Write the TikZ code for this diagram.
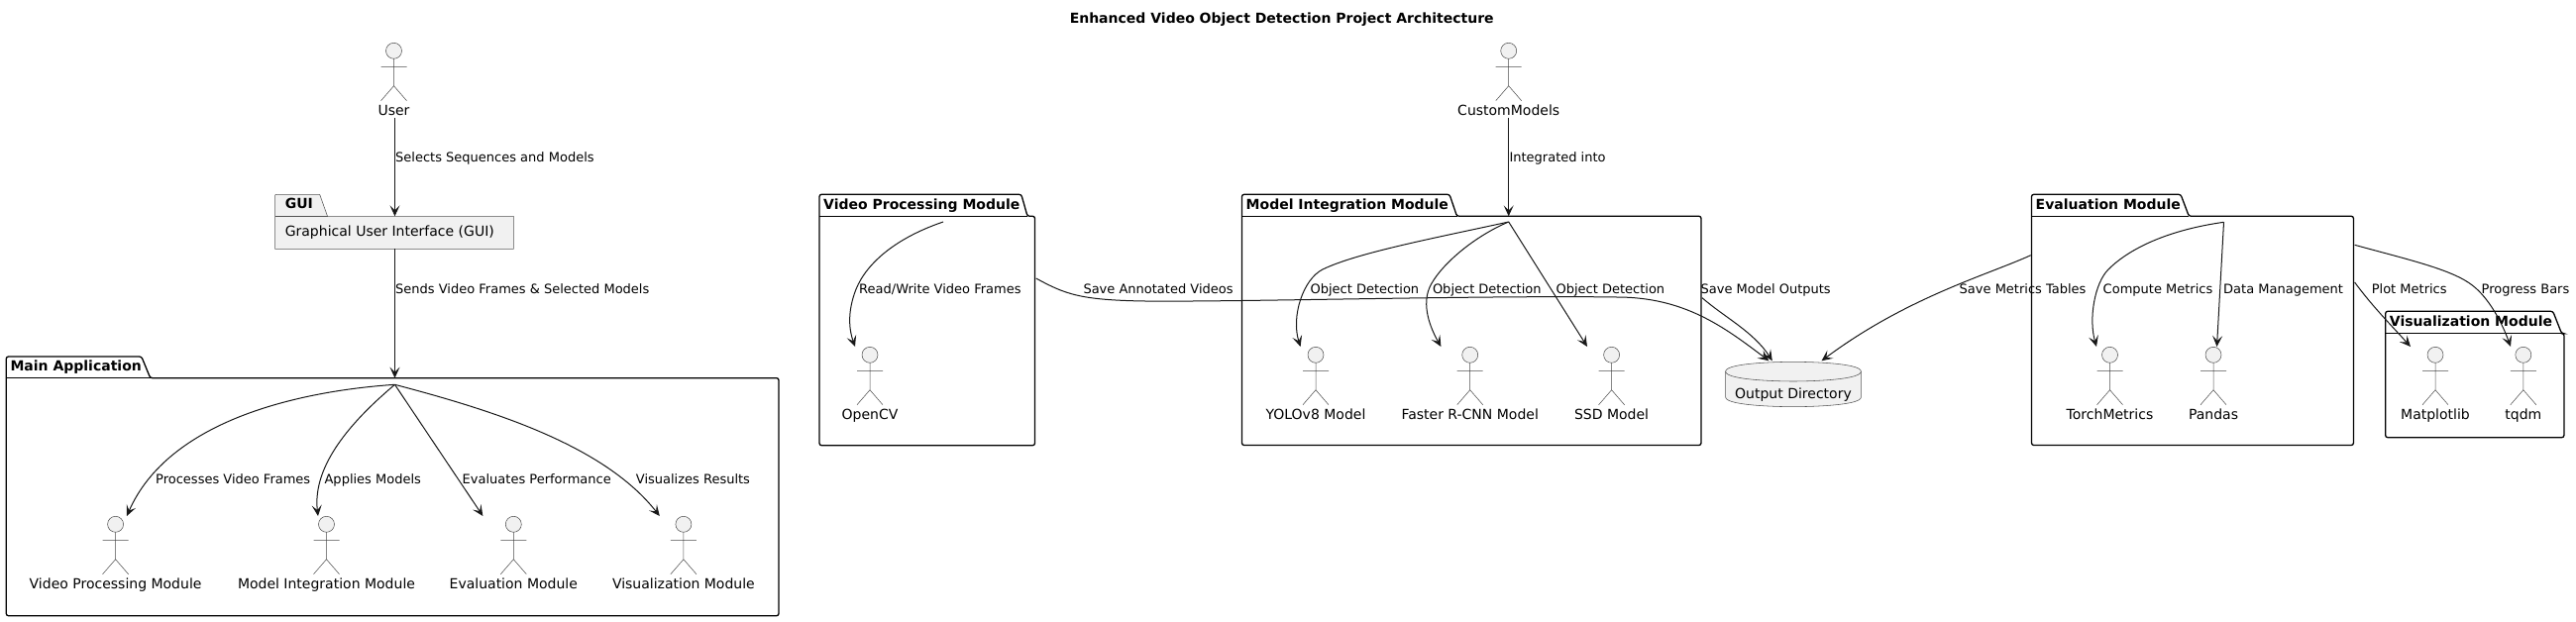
\documentclass[tikz,border=0pt]{standalone}
\usepackage{fontspec}
\setmainfont{DejaVu Sans}
\usetikzlibrary{arrows.meta}
\definecolor{ink}{HTML}{181818}
\definecolor{pale}{HTML}{F1F1F1}
\newcommand{\txtsize}{\fontsize{14}{16}\selectfont}
\newcommand{\edgesize}{\fontsize{13}{15}\selectfont}
\tikzset{
  flow/.style={draw=ink,line width=1pt,-{Stealth[length=11pt,width=10pt,inset=5pt]}},
  pkgline/.style={draw=black,line width=1.3pt,rounded corners=2.2pt},
  guiline/.style={draw=ink!75,line width=0.55pt,fill=pale},
  fig/.style={draw=ink!80,line width=0.5pt},
  head/.style={circle,draw=ink!80,line width=0.5pt,fill=pale,minimum size=16pt,inner sep=0pt},
  txt/.style={inner sep=0pt,text=black,font=\txtsize,text height=10.4pt,text depth=3pt},
  bodytxt/.style={txt,yshift=-1.5pt},
  lab/.style={inner sep=0pt,text=black,font=\edgesize,text height=9.8pt,text depth=2.8pt,anchor=west,yshift=-2.5pt},
  pkgtitle/.style={txt,anchor=west,font=\txtsize\bfseries},
}
% \stick: name, x, head centre y, label
\newcommand{\stick}[4]{%
  \begin{scope}[shift={(#2,#3)}]
    \node[head] (#1) at (0,0) {};
    \draw[fig] (0,8) -- (0,35.4) (-13,16) -- (13,16) (-13,50.4) -- (0,35.4) -- (13,50.4);
    \node[bodytxt] (#1Name) at (0,60) {#4};
  \end{scope}}
% \pack: left, tab top, body top, right, bottom, tab x top, tab x bottom, name
\newcommand{\pack}[8]{%
  \draw[pkgline] (#1,#3) -- (#1,#2) -- (#6,#2) -- (#7,#3) -- (#4,#3) -- (#4,#5) -- (#1,#5) -- cycle;
  \draw[draw=black,line width=1.3pt] (#1,#3) -- (#7,#3);
  \node[pkgtitle] (#8) at ({#1+4},{(#2+#3)/2}) {#8};}
\begin{document}
\begin{tikzpicture}[x=1pt,y=-1pt]
\useasboundingbox (0,0) rectangle (2600,627);
\node[bodytxt,font=\txtsize\bfseries] (title) at (1293.7,18) {Enhanced Video Object Detection Project Architecture};

% packages
\draw[guiline] (277.7,218.3) -- (277.7,197) -- (278.5,196.3) -- (322.7,196.3) -- (330.5,218.3) -- (518.3,218.3) -- (518.3,251.3) -- (277.7,251.3) -- cycle;
\draw[guiline] (277.7,218.3) -- (330.5,218.3);
\node[pkgtitle] (guiTitle) at (287.6,207) {GUI};
\node[bodytxt,anchor=west] (guiBox) at (287.6,233) {Graphical User Interface (GUI)};
\pack{6.3}{360}{381.7}{786}{621.7}{142.8}{151.7}{Main Application}
\pack{827}{196.3}{218.3}{1044.5}{449.7}{1030.8}{1037}{Video Processing Module}
\pack{1253.5}{196.3}{218.3}{1717}{449.5}{1463}{1470.5}{Model Integration Module}
\pack{2050.5}{196.3}{218.3}{2375.4}{449.5}{2201}{2209.3}{Evaluation Module}
\pack{2407.7}{314.3}{336.7}{2587.9}{441.7}{2576.7}{2585.5}{Visualization Module}

% actors
\stick{user}{397.5}{51.3}{User}
\stick{custom}{1522.7}{51.3}{CustomModels}
\stick{mVideo}{116.6}{529.3}{Video Processing Module}
\stick{mModel}{329.5}{529.3}{Model Integration Module}
\stick{mEval}{518.3}{529.3}{Evaluation Module}
\stick{mVis}{689.9}{529.3}{Visualization Module}
\stick{opencv}{878}{358.3}{OpenCV}
\stick{yolo}{1328}{358.3}{YOLOv8 Model}
\stick{faster}{1483.7}{358.3}{Faster R-CNN Model}
\stick{ssd}{1626.6}{358.3}{SSD Model}
\stick{torch}{2129.5}{358.3}{TorchMetrics}
\stick{pandas}{2234}{358.3}{Pandas}
\stick{matplot}{2458}{358.3}{Matplotlib}
\stick{tqdm}{2546.8}{358.3}{tqdm}

% database
\draw[guiline] (1741.6,375) .. controls (1741.6,365.3) and (1810,365.3) .. (1810,365.3)
  .. controls (1810,365.3) and (1878.4,365.3) .. (1878.4,375) -- (1878.4,401)
  .. controls (1878.4,410.7) and (1810,410.7) .. (1810,410.7)
  .. controls (1810,410.7) and (1741.6,410.7) .. (1741.6,401) -- cycle;
\draw[guiline,fill=none] (1741.6,375) .. controls (1741.6,385) and (1810,385) .. (1810,385)
  .. controls (1810,385) and (1878.4,385) .. (1878.4,375);
\node[bodytxt] (output) at (1810,397.3) {Output Directory};

% anchors of connectors
\coordinate (userOut) at (398.5,119);
\coordinate (guiIn) at (398.5,218.3);
\coordinate (guiOut) at (398.5,251.3);
\coordinate (mainIn) at (398.5,381.7);
\coordinate (mainHub) at (398.5,388.3);
\coordinate (customOut) at (1522.7,119);
\coordinate (modelIn) at (1522.7,218.3);
\coordinate (modelHub) at (1522.7,224);
\coordinate (videoHub) at (952,224);
\coordinate (evalHub) at (2244.5,224.3);
\coordinate (videoEdge) at (1045.7,281);
\coordinate (modelEdge) at (1718,300.7);
\coordinate (evalEdge) at (2049.7,257.7);
\coordinate (evalPlot) at (2376.6,285);
\coordinate (evalBars) at (2376.6,247.3);
\coordinate (outA) at (1785.4,364.3);
\coordinate (outB) at (1788.8,364.3);
\coordinate (outC) at (1838.5,364.3);
\coordinate (aimVideo) at (128,521);
\coordinate (aimModel) at (321,521);
\coordinate (aimEval) at (487.4,521);
\coordinate (aimVis) at (665.8,521);
\coordinate (aimOpencv) at (863,350);
\coordinate (aimYolo) at (1312.6,350);
\coordinate (aimFaster) at (1454.4,350);
\coordinate (aimSsd) at (1602,350);
\coordinate (aimTorch) at (2116,350);
\coordinate (aimPandas) at (2237.5,350);
\coordinate (aimMatplot) at (2433,350);
\coordinate (aimTqdm) at (2534,350);

% connectors
\draw[flow] (userOut) -- (guiIn);
\draw[flow] (guiOut) -- (mainIn);
\draw[flow] (customOut) -- (modelIn);
\draw[flow] (mainHub) .. controls (300,395) and (170,425) .. (aimVideo);
\draw[flow] (mainHub) .. controls (355,425) and (315,470) .. (aimModel);
\draw[flow] (mainHub) -- (aimEval);
\draw[flow] (mainHub) .. controls (500,415) and (610,450) .. (aimVis);
\draw[flow] (videoHub) .. controls (905,240) and (875,265) .. (864,292) .. controls (855,315) and (857,333) .. (aimOpencv);
\draw[flow] (modelHub) .. controls (1450,240) and (1370,255) .. (1335,272) .. controls (1315,282) and (1303,320) .. (aimYolo);
\draw[flow] (modelHub) .. controls (1485,240) and (1452,270) .. (1443,290) .. controls (1435,308) and (1443,330) .. (aimFaster);
\draw[flow] (modelHub) -- (aimSsd);
\draw[flow] (videoEdge) .. controls (1075,297) and (1090,303) .. (1156,304) .. controls (1250,305) and (1500,298) .. (1632,300) .. controls (1700,300) and (1740,330) .. (outA);
\draw[flow] (modelEdge) .. controls (1740,320) and (1770,335) .. (outB);
\draw[flow] (evalEdge) .. controls (2005,278) and (1925,300) .. (outC);
\draw[flow] (evalHub) .. controls (2190,232) and (2150,250) .. (2128,272) .. controls (2114,286) and (2108,322) .. (aimTorch);
\draw[flow] (evalHub) -- (aimPandas);
\draw[flow] (evalPlot) .. controls (2395,310) and (2415,330) .. (aimMatplot);
\draw[flow] (evalBars) .. controls (2430,262) and (2475,272) .. (2495.7,288.3) .. controls (2512,301) and (2525,325) .. (aimTqdm);

% connector labels
\node[lab] (lSelect) at (399,157.3) {Selects Sequences and Models};
\node[lab] (lSends) at (399,290.3) {Sends Video Frames \& Selected Models};
\node[lab] (lInteg) at (1523.3,157.3) {Integrated into};
\node[lab] (lProc) at (157,482.3) {Processes Video Frames};
\node[lab] (lAppl) at (327.4,482.3) {Applies Models};
\node[lab] (lEvalP) at (466.5,482.3) {Evaluates Performance};
\node[lab] (lVisR) at (641.7,482.3) {Visualizes Results};
\node[lab] (lRead) at (867,290.3) {Read/Write Video Frames};
\node[lab] (lAnn) at (1093.3,290.3) {Save Annotated Videos};
\node[lab] (lOd1) at (1322.4,290.3) {Object Detection};
\node[lab] (lOd2) at (1445.8,290.3) {Object Detection};
\node[lab] (lOd3) at (1570.4,290.3) {Object Detection};
\node[lab] (lSaveM) at (1716.4,290.3) {Save Model Outputs};
\node[lab] (lSaveT) at (1977.5,290.3) {Save Metrics Tables};
\node[lab] (lComp) at (2122.5,290.3) {Compute Metrics};
\node[lab] (lData) at (2244,290.3) {Data Management};
\node[lab] (lPlot) at (2393.6,290.3) {Plot Metrics};
\node[lab] (lBars) at (2504.5,290.3) {Progress Bars};
\end{tikzpicture}
\end{document}
